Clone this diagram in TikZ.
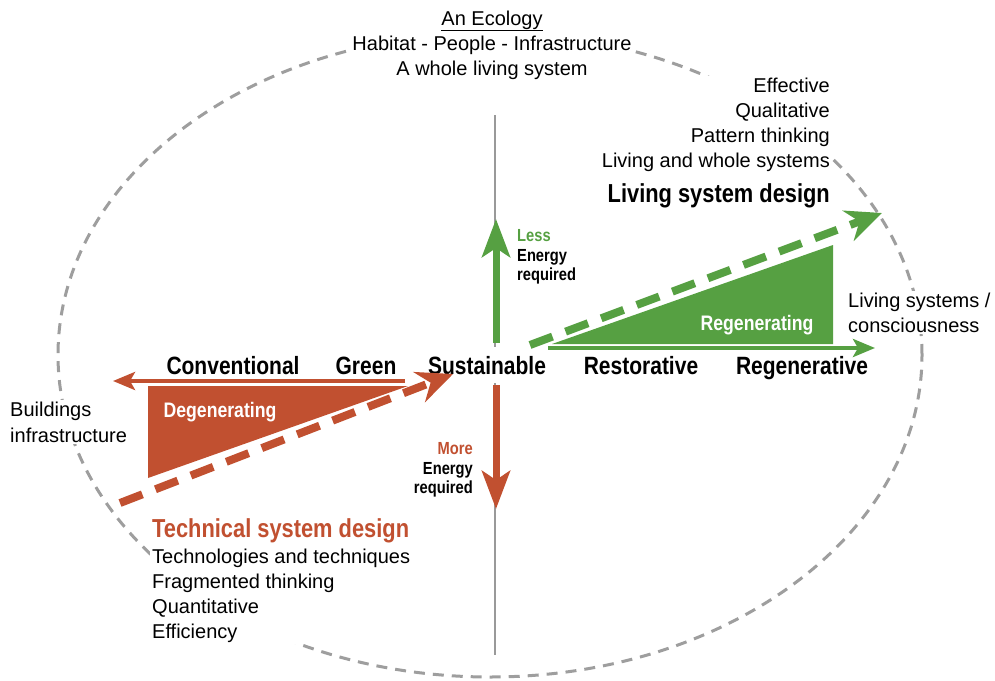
\documentclass[tikz,border=0pt]{standalone}
\usepackage{fontspec}
\setmainfont{Liberation Sans}
\newfontfamily\condbf[FakeStretch=0.84]{Liberation Sans Bold}
\usetikzlibrary{arrows.meta}
\definecolor{degred}{RGB}{193,80,48}
\definecolor{regreen}{RGB}{86,160,66}
\definecolor{ecogray}{RGB}{158,158,158}

\tikzset{
  ecoline/.style={ecogray, line width=3pt, dash pattern=on 11pt off 8pt},
  axisline/.style={gray!80, line width=1.2pt},
  bodytext/.style={font=\fontsize{20}{25}\selectfont, fill=white, inner sep=2pt},
  axislabel/.style={font=\condbf\fontsize{25}{30}\selectfont, fill=white, inner sep=1pt, anchor=base},
  designtitle/.style={font=\condbf\fontsize{26}{30}\selectfont, fill=white, inner sep=2pt},
  energytext/.style={font=\condbf\fontsize{17.5}{19.5}\selectfont, inner sep=0pt},
  triangletext/.style={font=\condbf\fontsize{21}{25}\selectfont, text=white, anchor=base},
  flowarrow/.style={line width=4pt, -{Stealth[length=22pt,width=18pt,inset=5pt]}},
  energyarrow/.style={line width=7pt, -{Stealth[length=38pt,width=28pt,inset=9pt]}},
  designarrow/.style={line width=8pt, dash pattern=on 24pt off 14pt, -{Stealth[length=36pt,width=32pt,inset=12pt]}}
}

\begin{document}
\begin{tikzpicture}[x=1pt,y=-1pt]
\useasboundingbox (0,0) rectangle (995,680);

% ecology boundary and energy axis
\coordinate (ecocentre) at (490,355);
\draw[ecoline] (ecocentre) ellipse [x radius=432pt, y radius=322pt];
\coordinate (axistop) at (495,115);
\coordinate (axisbottom) at (495,655);
\draw[axisline] (axistop) -- (axisbottom);

% text blocks
\node[bodytext, align=center, anchor=north] (ecology) at (492,8.4)
  {\underline{An Ecology}\\Habitat - People - Infrastructure\\A whole living system};
\node[bodytext, align=right, anchor=north east] (livingtraits) at (832,75.4)
  {Effective\\Qualitative\\Pattern thinking\\Living and whole systems};
\node[designtitle, anchor=base east] (livingdesign) at (832,202) {Living system design};
\node[designtitle, anchor=base west, text=degred] (techdesign) at (150,537) {Technical system design};
\node[bodytext, align=left, anchor=north west] (techtraits) at (150,546.4)
  {Technologies and techniques\\Fragmented thinking\\Quantitative\\Efficiency};
\node[bodytext, align=left, anchor=north west, font=\fontsize{20}{26}\selectfont] (buildings) at (8,399.4)
  {Buildings\\infrastructure};
\node[bodytext, align=left, anchor=north west] (livingsys) at (846,290.4)
  {Living systems /\\consciousness};

% scale of design
\node[axislabel] (conventional) at (233,374) {Conventional};
\node[axislabel] (green) at (366,374) {Green};
\node[axislabel, inner ysep=9pt] (sustainable) at (487,374) {Sustainable};
\node[axislabel] (restorative) at (641,374) {Restorative};
\node[axislabel] (regenerative) at (802,374) {Regenerative};

\node[energytext, align=left, anchor=north west] (less) at (517,229.5)
  {\textcolor{regreen}{Less}\\Energy\\required};
\node[energytext, align=right, anchor=north east] (more) at (473,442.5)
  {\textcolor{degred}{More}\\Energy\\required};

% degenerating / regenerating wedges
\coordinate (degtop) at (148,386);
\coordinate (degapex) at (408,386);
\coordinate (degbottom) at (148,478);
\fill[degred] (degtop) -- (degapex) -- (degbottom) -- cycle;
\coordinate (regapex) at (552,344);
\coordinate (regbottom) at (833,344);
\coordinate (regtop) at (833,245);
\fill[regreen] (regapex) -- (regbottom) -- (regtop) -- cycle;
\node[triangletext] (degenerating) at (220,417) {Degenerating};
\node[triangletext] (regenerating) at (757,330) {Regenerating};

% arrows
\coordinate (degstart) at (405,381);
\coordinate (degend) at (113,381);
\draw[flowarrow, degred] (degstart) -- (degend);
\coordinate (regstart) at (548,348);
\coordinate (regend) at (875,348);
\draw[flowarrow, regreen] (regstart) -- (regend);

\coordinate (lessstart) at (496,343);
\coordinate (lessend) at (496,219);
\draw[energyarrow, regreen] (lessstart) -- (lessend);
\coordinate (morestart) at (496,385);
\coordinate (moreend) at (496,509);
\draw[energyarrow, degred] (morestart) -- (moreend);

\coordinate (techstart) at (120,503);
\coordinate (techend) at (453,374);
\draw[designarrow, degred] (techstart) -- (techend);
\coordinate (livingstart) at (530,345);
\coordinate (livingend) at (882,213);
\draw[designarrow, regreen] (livingstart) -- (livingend);
\end{tikzpicture}
\end{document}
